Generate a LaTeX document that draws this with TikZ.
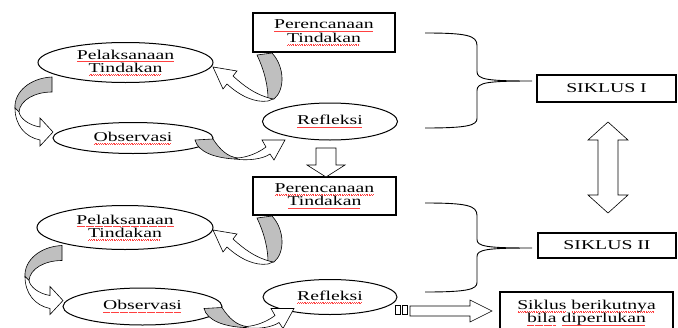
\documentclass[tikz,border=0pt]{standalone}
\usepackage{fontspec}
\setmainfont{Liberation Serif}[FakeStretch=1.46]
\usetikzlibrary{shapes.geometric}

\newsavebox\spellbox
\newcommand\spell[1]{\sbox\spellbox{#1}\rlap{\raisebox{-2.6pt}{\textcolor{red!75}{\hbox to \wd\spellbox{\leaders\hbox to 1.8pt{\hss\rule{0.7pt}{0.45pt}\raisebox{0.5pt}{\rule{0.6pt}{0.45pt}}\hss}\hfill}}}}\usebox\spellbox}

\begin{document}
\begin{tikzpicture}[x=1pt, y=-1pt,
  font=\fontsize{13.5}{13.5}\selectfont,
  box/.style={draw, line width=1.1pt, inner sep=0pt, outer sep=0pt, align=center},
  oval/.style={ellipse, draw, line width=1pt, inner sep=0pt, outer sep=0pt, align=center},
  back/.style={draw, line width=0.6pt, fill=black!25},
  front/.style={draw, line width=0.6pt, fill=white},
  brace/.style={draw, line width=0.9pt}]

  \useasboundingbox (0,0) rectangle (678,327);

  % ---------- Siklus I ----------

  % Shapes
  \node[box, minimum width=142pt, minimum height=39pt] at (324,32.5) (PT1) {\spell{Perencanaan}\\\spell{Tindakan}};
  \node[oval, minimum width=175pt, minimum height=40pt] at (125.5,62.5) (PL1) {\spell{Pelaksanaan}\\\spell{Tindakan}};
  \node[oval, minimum width=160pt, minimum height=31pt] at (133,138) (OB1) {\spell{Observasi}};
  \node[oval, minimum width=135pt, minimum height=37pt] at (330,121.5) (RF1) {\spell{Refleksi}};

  % Curved arrows
  \begin{scope}[shift={(PT1.south west)}]
    \filldraw[back] (4,3) .. controls (12,20) and (15,35) .. (15,47) -- (21,47) .. controls (32,38) and (32,15) .. (19,1) -- cycle;
    \filldraw[front] (20,47) .. controls (2,43) and (-10,33) .. (-20,24) -- (-16,19) -- (-40,15) -- (-30,37) -- (-26,32) .. controls (-13,44) and (2,51) .. (15,49) -- cycle;
  \end{scope}
  \begin{scope}[shift={(OB1.west)}]
    \filldraw[back] (-1,-61) .. controls (-23,-60) and (-39,-46) .. (-38,-30) -- (-34,-26) .. controls (-33,-38) and (-18,-46) .. (-1,-46) -- cycle;
    \filldraw[front] (-38,-30) .. controls (-38,-13) and (-28,-1) .. (-13,2) -- (-13,8) -- (0,-6) -- (-13,-20) -- (-13,-11) .. controls (-25,-13) and (-33,-20) .. (-34,-26) -- cycle;
  \end{scope}
  \begin{scope}[shift={(OB1.east)}]
    \filldraw[back] (-18,2) -- (0,1) .. controls (7,12) and (15,19) .. (25,20) -- (22,21) .. controls (2,20) and (-15,14) .. (-18,2) -- cycle;
    \filldraw[front] (22,21) .. controls (35,23) and (50,21) .. (57,16) -- (61,22) -- (72,2) -- (49,2) -- (53,9) .. controls (45,15) and (35,19) .. (25,20) -- cycle;
  \end{scope}

  % ---------- Siklus II ----------

  % Shapes
  \node[box, minimum width=143pt, minimum height=38pt] at (324.5,196) (PT2) {\spell{Perencanaan}\\\spell{Tindakan}};
  \node[oval, minimum width=176pt, minimum height=44pt] at (125,227.5) (PL2) {\spell{Pelaksanaan}\\\spell{Tindakan}};
  \node[oval, minimum width=159pt, minimum height=37pt] at (142.5,306.5) (OB2) {\spell{Observasi}};
  \node[oval, minimum width=134pt, minimum height=35pt] at (330,297) (RF2) {\spell{Refleksi}};

  % Curved arrows
  \begin{scope}[shift={(PT2.south west)}]
    \filldraw[back] (4,3) .. controls (12,20) and (15,35) .. (15,47) -- (21,47) .. controls (32,38) and (32,15) .. (19,1) -- cycle;
    \filldraw[front] (20,47) .. controls (2,43) and (-10,33) .. (-20,24) -- (-16,19) -- (-40,15) -- (-30,37) -- (-26,32) .. controls (-13,44) and (2,51) .. (15,49) -- cycle;
  \end{scope}
  \begin{scope}[shift={(OB2.west)}]
    \filldraw[back] (-1,-61) .. controls (-23,-60) and (-39,-46) .. (-38,-30) -- (-34,-26) .. controls (-33,-38) and (-18,-46) .. (-1,-46) -- cycle;
    \filldraw[front] (-38,-30) .. controls (-38,-13) and (-28,-1) .. (-13,2) -- (-13,8) -- (0,-6) -- (-13,-20) -- (-13,-11) .. controls (-25,-13) and (-33,-20) .. (-34,-26) -- cycle;
  \end{scope}
  \begin{scope}[shift={(OB2.east)}]
    \filldraw[back] (-18,2) -- (0,1) .. controls (7,12) and (15,19) .. (25,20) -- (22,21) .. controls (2,20) and (-15,14) .. (-18,2) -- cycle;
    \filldraw[front] (22,21) .. controls (35,23) and (50,21) .. (57,16) -- (61,22) -- (72,2) -- (49,2) -- (53,9) .. controls (45,15) and (35,19) .. (25,20) -- cycle;
  \end{scope}

  % ---------- Right column ----------

  % Labels
  \node[box, minimum width=139pt, minimum height=27pt] at (606.5,88.5) (SK1) {SIKLUS I};
  \node[box, minimum width=138pt, minimum height=25pt] at (607,245.5) (SK2) {SIKLUS II};
  \node[box, minimum width=173pt, inner ysep=8pt, anchor=north] at (586.5,292) (SB) {\spell{Siklus} \spell{berikutnya}\\\spell{bila} \spell{diperlukan}};

  % Braces
  \begin{scope}[shift={(SK1.west)}]
    \draw[brace] (-112,-55.5) .. controls (-70,-55.5) and (-60,-53) .. (-60,-43) -- (-60,-17) .. controls (-60,-9) and (-50,-7.5) .. (-5,-7.5) .. controls (-50,-7.5) and (-60,-6) .. (-60,2) -- (-60,30) .. controls (-60,37) and (-70,39.5) .. (-112,39.5);
  \end{scope}
  \begin{scope}[shift={(SK2.west)}]
    \draw[brace] (-113,-42.5) .. controls (-71,-42.5) and (-61,-40) .. (-61,-30) -- (-61,-6) .. controls (-61,1) and (-51,2.5) .. (-6,2.5) .. controls (-51,2.5) and (-61,4) .. (-61,11) -- (-61,37) .. controls (-61,44) and (-71,46.5) .. (-113,46.5);
  \end{scope}

  % ---------- Block arrows ----------
  \begin{scope}[shift={(RF1.south)}]
    \filldraw[front] (-14,8) -- (6,8) -- (6,25) -- (15,25) -- (-4,37) -- (-23,25) -- (-14,25) -- cycle;
  \end{scope}
  \begin{scope}[shift={(SK1.south)}]
    \filldraw[front] (1.5,20) -- (21.5,38) -- (11.5,38) -- (11.5,93) -- (21.5,93) -- (1.5,111) -- (-18.5,93) -- (-8.5,93) -- (-8.5,38) -- (-18.5,38) -- cycle;
  \end{scope}
  \begin{scope}[shift={(RF2.east)}]
    \filldraw[front] (-2,8) rectangle (3,17);
    \filldraw[front] (5,8) rectangle (10,17);
    \filldraw[front] (13,9) -- (73,9) -- (73,3) -- (95,14) -- (73,25) -- (73,19) -- (13,19) -- cycle;
  \end{scope}
\end{tikzpicture}
\end{document}
